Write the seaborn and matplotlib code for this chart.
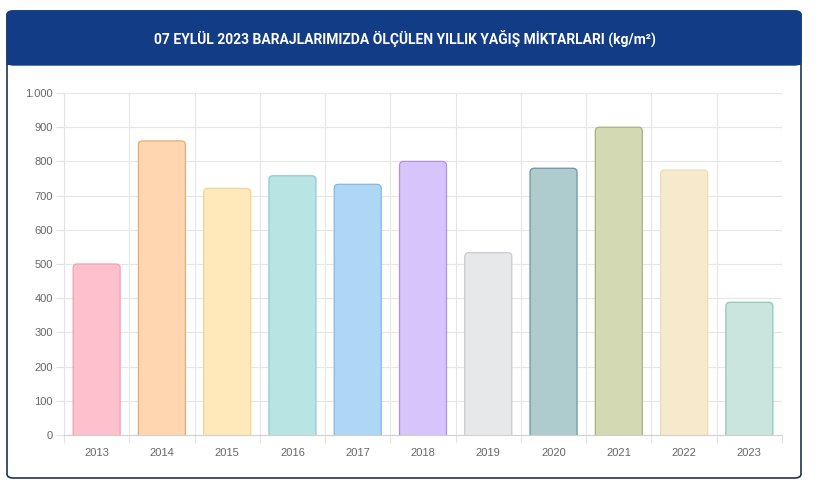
import matplotlib
matplotlib.use("Agg")
import matplotlib.pyplot as plt
import seaborn as sns
import pandas as pd
import numpy as np
from matplotlib.patches import FancyBboxPatch
from matplotlib.ticker import FuncFormatter, MultipleLocator, FixedLocator

years = ["2013", "2014", "2015", "2016", "2017", "2018", "2019", "2020", "2021", "2022", "2023"]
values = [500, 860, 721, 758, 733, 800, 533, 780, 900, 775, 388]
fill_colors = ["#FFC0CD", "#FFD6B0", "#FFE9BA", "#B8E4E4", "#AED7F6", "#D6C4FB",
               "#E7E8E9", "#AECBCE", "#D3D9B2", "#F7E9CB", "#C8E6DD"]
edge_colors = ["#F2A2B4", "#E8AC70", "#F0D49A", "#90CCCC", "#84B8E0", "#AE90E4",
               "#C8CACD", "#6A96A0", "#A8B27C", "#EEDDB6", "#94C6B6"]
title = "07 EYLÜL 2023 BARAJLARIMIZDA ÖLÇÜLEN YILLIK YAĞIŞ MİKTARLARI (kg/m²)"

sns.set_theme(style="white")
plt.rcParams["font.family"] = ["Liberation Sans", "DejaVu Sans"]

W, H = 824, 496
fig = plt.figure(figsize=(W / 100, H / 100), dpi=100)

def fx(px):
    return px / W

def fy(py):
    return 1 - py / H

# card
card = FancyBboxPatch((fx(7), fy(478)), fx(801) - fx(7), fy(11) - fy(478),
                      boxstyle="round,pad=0,rounding_size=0.008",
                      transform=fig.transFigure, facecolor="white",
                      edgecolor="#1f3350", linewidth=1.2, zorder=0)
fig.patches.append(card)
header = FancyBboxPatch((fx(7), fy(65)), fx(801) - fx(7), fy(11) - fy(65),
                        boxstyle="round,pad=0,rounding_size=0.008",
                        transform=fig.transFigure, facecolor="#123C85",
                        edgecolor="#123C85", linewidth=1.0, zorder=1)
fig.patches.append(header)
fig.patches.append(plt.Rectangle((fx(7), fy(65)), fx(801) - fx(7), fy(50) - fy(65),
                                 transform=fig.transFigure, facecolor="#123C85",
                                 edgecolor="none", zorder=1))
fig.text(fx(405), fy(39), title, color="white", fontsize=10, fontweight="bold",
         ha="center", va="center", family=["Roboto", "DejaVu Sans"], zorder=3)

ax = fig.add_axes([fx(64), fy(435), fx(782) - fx(64), fy(93) - fy(435)])
ax.set_zorder(5)
df = pd.DataFrame({"year": years, "value": values})
sns.barplot(data=df, x="year", y="value", hue="year", palette=fill_colors,
            saturation=1, legend=False, width=0.72, ax=ax, zorder=2)

ax.set_xlim(-0.5, len(years) - 0.5)
ax.set_ylim(0, 1000)

# rounded bars
bars = list(ax.patches)
r_x = 0.065
px_per_y = (435 - 93) / 1000
aspect = (4 / px_per_y) / r_x
for p, ec in zip(bars, edge_colors):
    x0, w, h = p.get_x(), p.get_width(), p.get_height()
    fc = p.get_facecolor()
    p.remove()
    rb = FancyBboxPatch((x0, -30), w, h + 30,
                        boxstyle=f"round,pad=0,rounding_size={r_x}",
                        mutation_aspect=aspect, facecolor=fc, edgecolor=ec,
                        linewidth=0.9, zorder=2, clip_on=True)
    ax.add_patch(rb)

ax.yaxis.set_major_locator(MultipleLocator(100))
ax.yaxis.set_major_formatter(FuncFormatter(lambda v, p: f"{int(v):,}".replace(",", ".")))
ax.set_xticks(range(len(years)))
ax.set_xticklabels(years)
ax.xaxis.set_minor_locator(FixedLocator(np.arange(-0.5, len(years), 1.0)))

ax.grid(False)
ax.yaxis.grid(True, which="major", color="#e6e6e6", linewidth=0.8, zorder=0)
ax.xaxis.grid(True, which="minor", color="#e6e6e6", linewidth=0.8, zorder=0)
ax.set_axisbelow(True)

ax.tick_params(axis="y", which="major", length=6, color="#e3e3e3", width=0.8,
               labelsize=8, labelcolor="#666666", pad=2, left=True)
ax.tick_params(axis="x", which="major", length=0, labelsize=8,
               labelcolor="#666666", pad=9)
ax.tick_params(axis="x", which="minor", length=6, color="#e3e3e3", width=0.8, bottom=True)

for s in ["top", "right"]:
    ax.spines[s].set_visible(False)
ax.spines["left"].set_color("#e3e3e3")
ax.spines["bottom"].set_color("#cfcfcf")
ax.spines["left"].set_linewidth(0.8)
ax.spines["bottom"].set_linewidth(0.8)
ax.set_xlabel("")
ax.set_ylabel("")
ax.patch.set_alpha(0)

fig.savefig("out.png", dpi=100)
